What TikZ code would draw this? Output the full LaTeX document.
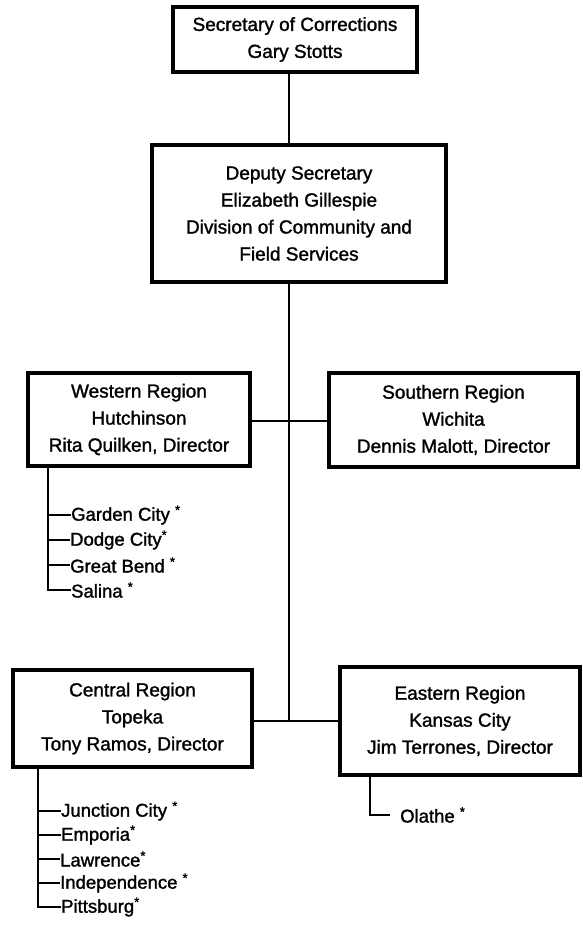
\documentclass[tikz,border=0pt]{standalone}
\usepackage{fontspec}
\setmainfont{Liberation Sans}[FakeBold=1.4]
\newcommand{\myast}{\textsuperscript{*}}
\begin{document}
\begin{tikzpicture}[x=1pt,y=-1pt,
  orgbox/.style={draw=black, line width=3.2pt, fill=white, inner sep=0pt, align=center,
    font=\fontsize{19}{27}\selectfont},
  conn/.style={draw=black, line width=2pt},
  sub/.style={draw=black, line width=1.6pt},
  item/.style={anchor=west, inner sep=0pt, font=\fontsize{18.5}{22}\selectfont}]
\useasboundingbox[fill=white] (0,0) rectangle (582,925);
% boxes
\node[orgbox, minimum width=244pt, minimum height=65pt] (sec) at (295,39.5)
  {Secretary of Corrections\\Gary Stotts};
\node[orgbox, minimum width=294pt, minimum height=137pt] (dep) at (299,213.5)
  {Deputy Secretary\\Elizabeth Gillespie\\Division of Community and\\Field Services};
\node[orgbox, minimum width=222pt, minimum height=93pt] (west) at (139,419.5)
  {Western Region\\Hutchinson\\Rita Quilken, Director};
\node[orgbox, minimum width=249pt, minimum height=94pt] (south) at (453.5,420)
  {Southern Region\\Wichita\\Dennis Malott, Director};
\node[orgbox, minimum width=239pt, minimum height=97pt] (cent) at (132.5,718.5)
  {Central Region\\Topeka\\Tony Ramos, Director};
\node[orgbox, minimum width=240pt, minimum height=108pt] (east) at (460,721)
  {Eastern Region\\Kansas City\\Jim Terrones, Director};
% trunk
\coordinate (jW) at (289,421);
\coordinate (jC) at (289,721);
\draw[conn] (sec.south -| jC) -- (dep.north -| jC);
\draw[conn] (dep.south -| jC) -- (jC);
\draw[conn] (west.east |- jW) -- (south.west |- jW);
\draw[conn] (cent.east |- jC) -- (east.west |- jC);
% western list
\node[item] (gc) at (71,515) {Garden City \myast};
\node[item] (dc) at (70,540) {Dodge City\myast};
\node[item] (gb) at (70,565) {Great Bend \myast};
\node[item] (sa) at (71,590) {Salina \myast};
\coordinate (ws) at (48,466);
\draw[sub] (ws) -- (ws |- sa.west) -- (sa.west);
\draw[sub] (ws |- gc.west) -- (gc.west);
\draw[sub] (ws |- dc.west) -- (dc.west);
\draw[sub] (ws |- gb.west) -- (gb.west);
% central list
\node[item] (jc) at (61,811) {Junction City \myast};
\node[item] (em) at (61,835) {Emporia\myast};
\node[item] (la) at (60,859) {Lawrence\myast};
\node[item] (in) at (60,883) {Independence \myast};
\node[item] (pi) at (61,907) {Pittsburg\myast};
\coordinate (cs) at (38,767);
\draw[sub] (cs) -- (cs |- pi.west) -- (pi.west);
\draw[sub] (cs |- jc.west) -- (jc.west);
\draw[sub] (cs |- em.west) -- (em.west);
\draw[sub] (cs |- la.west) -- (la.west);
\draw[sub] (cs |- in.west) -- (in.west);
% eastern list
\node[item] (ol) at (400,815) {Olathe \myast};
\coordinate (es) at (370,775);
\draw[sub] (es) -- (es |- ol.west) -- ([xshift=-10pt]ol.west);
\end{tikzpicture}
\end{document}
